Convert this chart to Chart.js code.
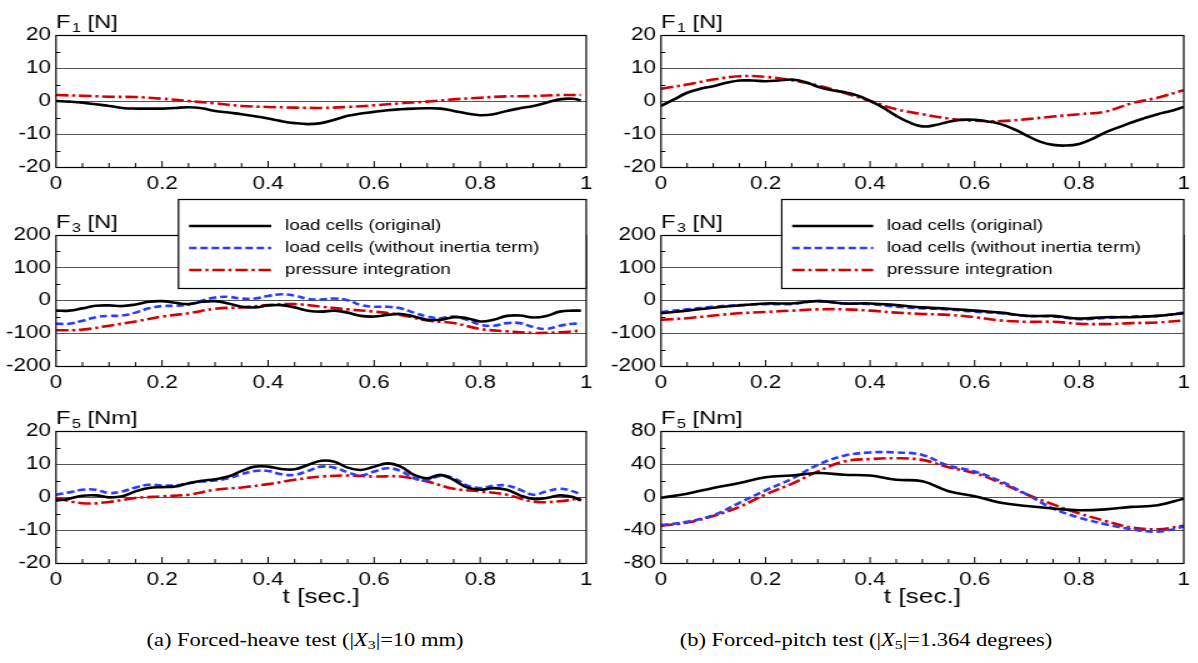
<!DOCTYPE html>
<html lang="en">
<head>
<meta charset="UTF-8">
<title>Load cells vs pressure integration</title>
<script src="https://cdn.jsdelivr.net/npm/chart.js"></script>
<style>
  body { margin: 0; background: #fff; width: 1198px; height: 663px; position: relative; overflow: hidden; }
  .panel { position: absolute; transform-origin: 0 0; }
  .caption { position: absolute; top: 630px; font-family: "Liberation Serif", "Times New Roman", serif; font-size: 18px; white-space: nowrap; transform: translateX(-50%) scaleX(1.25); color: #000; }
  .caption sub { font-size: 0.7em; vertical-align: -0.25em; line-height: 0; }
</style>
</head>
<body>
<div class="caption" style="left:305px">(a) Forced-heave test (|<i>X</i><sub>3</sub>|=10 mm)</div>
<div class="caption" style="left:866px">(b) Forced-pitch test (|<i>X</i><sub>5</sub>|=1.364 degrees)</div>

<script>
// time axes (left column curves stop just before t = 1)
var tFineL = [0,0.025,0.05,0.075,0.1,0.125,0.15,0.175,0.2,0.225,0.25,0.275,0.3,0.325,0.35,0.375,0.4,0.425,0.45,0.475,0.5,0.525,0.55,0.575,0.6,0.625,0.65,0.675,0.7,0.725,0.75,0.775,0.8,0.825,0.85,0.875,0.9,0.925,0.95,0.975,0.99];
var tCoarseL = [0,0.05,0.1,0.15,0.2,0.25,0.3,0.35,0.4,0.45,0.5,0.55,0.6,0.65,0.7,0.75,0.8,0.85,0.9,0.95,0.99];
var tFineR = [0,0.025,0.05,0.075,0.1,0.125,0.15,0.175,0.2,0.225,0.25,0.275,0.3,0.325,0.35,0.375,0.4,0.425,0.45,0.475,0.5,0.525,0.55,0.575,0.6,0.625,0.65,0.675,0.7,0.725,0.75,0.775,0.8,0.825,0.85,0.875,0.9,0.925,0.95,0.975,1];
var tCoarseR = [0,0.05,0.1,0.15,0.2,0.25,0.3,0.35,0.4,0.45,0.5,0.55,0.6,0.65,0.7,0.75,0.8,0.85,0.9,0.95,1];

var xTicks = [0, 0.2, 0.4, 0.6, 0.8, 1];
var xTickLabels = ['0', '0.2', '0.4', '0.6', '0.8', '1'];
var yTicksF1 = [-20, -10, 0, 10, 20];
var yTicksF3 = [-200, -100, 0, 100, 200];
var yTicksF5heave = [-20, -10, 0, 10, 20];
var yTicksF5pitch = [-80, -40, 0, 40, 80];

var seriesNames = ['load cells (original)', 'load cells (without inertia term)', 'pressure integration'];

// (a) forced heave
var heaveF1Orig = [0,-0.2,-0.5,-1,-1.5,-2.1,-2.3,-2.3,-2.3,-2.1,-1.9,-2.2,-3,-3.5,-4,-4.6,-5.3,-6.1,-6.7,-7,-6.7,-5.7,-4.5,-3.8,-3.3,-2.8,-2.5,-2.3,-2.2,-2.3,-3,-3.8,-4.3,-4,-3,-2.2,-1.5,-0.5,0.5,0.7,0.2];
var heaveF1Press = [1.8,1.6,1.3,1.2,0.7,0,-0.7,-1.5,-1.8,-2,-2.1,-1.8,-1.3,-0.7,-0.2,0.5,1,1.4,1.5,1.8,1.8];

var heaveF3Orig = [-31,-31,-24,-16,-15,-17,-12,-4,-2,-7,-11,-4,-2,-9,-19,-21,-15,-14,-21,-31,-34,-31,-37,-47,-49,-44,-41,-49,-59,-59,-51,-54,-64,-59,-47,-46,-52,-47,-34,-31,-31];
var heaveF3NoInertia = [-71,-71,-62,-51,-47,-46,-37,-24,-17,-16,-12,-1,9,11,6,6,14,19,15,5,3,6,1,-14,-19,-19,-24,-37,-49,-54,-49,-59,-74,-77,-69,-69,-81,-87,-77,-71,-71];
var heaveF3Press = [-91,-89,-77,-64,-49,-39,-25,-21,-14,-11,-19,-27,-34,-44,-61,-69,-87,-94,-99,-97,-92];

var heaveF5Orig = [-1.1,-0.5,0.4,0.5,-0.1,0.2,1.7,2.7,3,3.2,4.2,4.9,5.4,6.2,7.9,9.2,9.2,8.5,8.4,9.7,11,10.7,8.9,8.2,9.2,10.2,9.2,6.7,5.7,6.7,5.2,2.9,2.2,2.7,2.2,0.5,-0.6,-0.3,0.5,0,-1.1];
var heaveF5NoInertia = [0.7,1.4,2.2,2.2,1.2,1.7,2.9,3.7,3.5,3.5,4.2,4.7,5,5.7,6.9,7.9,7.9,6.9,6.7,7.9,9.2,8.9,7.5,6.5,7.7,8.7,7.9,5.7,5.2,6.4,5.7,3.5,2.7,3.4,3.5,2.2,0.7,1.7,2.5,1.7,0.7];
var heaveF5Press = [-0.3,-1.9,-1.5,-0.3,0.2,0.7,2.2,2.9,3.9,5.2,6.2,6.5,6.2,6.2,4.7,2.5,1.7,0.7,-1.4,-1.3,-0.3];

// (b) forced pitch
var pitchF1Orig = [-1.5,0.5,2.5,3.7,4.5,5.5,6.2,6.2,6,6.2,6.5,5.8,4.3,3.3,2.7,1.7,0,-2,-4.5,-6.5,-7.7,-7.3,-6.3,-5.7,-5.7,-6.2,-7,-8.5,-10.5,-12.3,-13.3,-13.5,-13,-11.5,-9.5,-8,-6.5,-5.2,-4,-3,-1.8];
var pitchF1Press = [3.7,5,6.5,7.5,7.3,6.3,4.7,2.5,0,-2.5,-4,-5.3,-6,-6.1,-5.5,-4.7,-4,-3.2,-0.7,1,3.3];

var pitchF3Orig = [-39,-31,-22,-15,-9,-9,-2,-9,-9,-14,-21,-25,-31,-37,-47,-47,-55,-51,-51,-47,-39];
var pitchF3NoInertia = [-35,-27,-19,-14,-11,-11,-2,-9,-11,-19,-24,-27,-34,-39,-47,-49,-57,-53,-49,-47,-37];
var pitchF3Press = [-59,-54,-46,-39,-35,-31,-27,-27,-31,-37,-41,-44,-51,-61,-65,-65,-71,-72,-69,-67,-61];

var pitchF5Orig = [-1,4,11,17,24,26,29,27,26,21,19,7,1,-7,-11,-14,-16,-15,-12,-10,-2];
var pitchF5NoInertia = [-34,-30,-22,-7,8,22,39,50,54,54,51,38,31,19,3,-14,-25,-33,-39,-42,-36];
var pitchF5Press = [-35,-31,-23,-12,3,16,31,43,46,47,45,36,29,17,3,-9,-20,-29,-37,-39,-35];

var lineStyles = [
    { borderColor: '#000000', borderWidth: 2.6, borderDash: [] },
    { borderColor: '#2b3cff', borderWidth: 2.6, borderDash: [6, 3] },
    { borderColor: '#d40000', borderWidth: 2.6, borderDash: [10, 3, 2.5, 3] }
];

var FONT = '"Liberation Sans", Arial, sans-serif';
var SX = 1.25; // the source figure is stretched sideways

function makeSet(kind, t, vals) {
    var st = lineStyles[kind];
    return {
        label: seriesNames[kind],
        data: t.map(function (x, i) { return { x: x, y: vals[i] }; }),
        borderColor: st.borderColor,
        borderWidth: st.borderWidth,
        borderDash: st.borderDash,
        pointRadius: 0,
        tension: 0.4,
        fill: false
    };
}

// frame, inward minor ticks, panel title, legend box and x title
var panelDecor = {
    id: 'panelDecor',
    afterDraw: function (chart, args, o) {
        var ctx = chart.ctx, a = chart.chartArea;
        var xs = chart.scales.x, ys = chart.scales.y;
        ctx.save();
        ctx.strokeStyle = '#000';
        ctx.lineWidth = 1;
        ctx.setLineDash([]);
        ctx.beginPath();
        for (var k = 1; k < 20; k++) {
            var px = xs.getPixelForValue(k * 0.05);
            var len = (k % 4 === 0) ? 6 : 4;
            ctx.moveTo(px, a.bottom);
            ctx.lineTo(px, a.bottom - len);
        }
        var ymin = o.yTicks[0], ystep = o.yTicks[1] - o.yTicks[0];
        for (var j = 0; j < o.yTicks.length - 1; j++) {
            var py = Math.round(ys.getPixelForValue(ymin + (j + 0.5) * ystep)) + 0.5;
            ctx.moveTo(a.left, py);
            ctx.lineTo(a.left + 3.5, py);
        }
        ctx.stroke();
        ctx.lineWidth = 1.2;
        ctx.strokeRect(a.left, Math.round(a.top) + 0.5, a.right - a.left, Math.round(a.bottom - a.top));

        // title like F1 [N]
        ctx.fillStyle = '#000';
        ctx.textBaseline = 'alphabetic';
        ctx.textAlign = 'left';
        var tx = a.left, ty = a.top - 7;
        ctx.font = '19px ' + FONT;
        ctx.fillText('F', tx, ty);
        tx += ctx.measureText('F').width + 1;
        ctx.font = '13px ' + FONT;
        ctx.fillText(o.sub, tx, ty + 4);
        tx += ctx.measureText(o.sub).width;
        ctx.font = '19px ' + FONT;
        ctx.fillText(' [' + o.unit + ']', tx, ty);

        if (o.legend) {
            var W = a.right - a.left;
            var bx = a.left + 0.231 * W, by = a.top - 36;
            ctx.fillStyle = '#fff';
            ctx.fillRect(bx, by, a.right - bx, 89);
            ctx.lineWidth = 1.2;
            ctx.strokeRect(bx, by + 0.5, a.right - bx, 89);
            var rows = [a.top - 9, a.top + 13, a.top + 35];
            chart.data.datasets.forEach(function (ds, i) {
                ctx.strokeStyle = ds.borderColor;
                ctx.lineWidth = ds.borderWidth;
                ctx.setLineDash(ds.borderDash);
                ctx.beginPath();
                ctx.moveTo(a.left + 0.251 * W, rows[i]);
                ctx.lineTo(a.left + 0.406 * W, rows[i]);
                ctx.stroke();
                ctx.setLineDash([]);
                ctx.fillStyle = '#000';
                ctx.font = '15px ' + FONT;
                ctx.textBaseline = 'middle';
                ctx.fillText(ds.label, a.left + 0.432 * W, rows[i]);
            });
        }
        if (o.xTitle) {
            ctx.fillStyle = '#000';
            ctx.font = '21px ' + FONT;
            ctx.textAlign = 'center';
            ctx.textBaseline = 'middle';
            ctx.fillText('t [sec.]', (a.left + a.right) / 2, a.bottom + 34);
        }
        ctx.restore();
    }
};

// page positions (px) of each column / row of plot frames
var cols = [
    { left: 0, width: 600, areaLeft: 56, areaRight: 588 },
    { left: 600, width: 598, areaLeft: 661, areaRight: 1190 }
];
var rows = [
    { top: 0, height: 200, areaTop: 35, areaBottom: 167 },
    { top: 190, height: 210, areaTop: 235, areaBottom: 366 },
    { top: 395, height: 225, areaTop: 431, areaBottom: 563 }
];

function makePanel(col, row, yTicks, sub, unit, datasets, legend, xTitle) {
    var c = cols[col], r = rows[row];
    var wrap = document.createElement('div');
    wrap.className = 'panel';
    wrap.style.left = c.left + 'px';
    wrap.style.top = r.top + 'px';
    wrap.style.transform = 'scaleX(' + SX + ')';
    var cv = document.createElement('canvas');
    var cw = Math.round(c.width / SX);
    cv.width = cw;
    cv.height = r.height;
    wrap.appendChild(cv);
    document.body.appendChild(wrap);

    var yAxisW = (c.areaLeft - c.left) / SX;
    var padRight = cw - (c.areaRight - c.left) / SX;

    new Chart(cv, {
        type: 'line',
        data: { datasets: datasets },
        options: {
            responsive: false,
            animation: false,
            devicePixelRatio: 1,
            layout: { padding: { top: r.areaTop - r.top, right: padRight, left: 0, bottom: 0 } },
            plugins: {
                legend: { display: false },
                tooltip: { enabled: false },
                panelDecor: { yTicks: yTicks, sub: sub, unit: unit, legend: legend, xTitle: xTitle }
            },
            scales: {
                x: {
                    type: 'linear', min: 0, max: 1,
                    afterBuildTicks: function (s) { s.ticks = xTicks.map(function (v) { return { value: v }; }); },
                    afterFit: function (s) { s.height = r.top + r.height - r.areaBottom; },
                    grid: { display: false, drawTicks: false },
                    border: { display: false },
                    ticks: {
                        autoSkip: false, maxRotation: 0, padding: 6, color: '#000',
                        font: { family: FONT, size: 18 },
                        callback: function (v, i) { return xTickLabels[i]; }
                    }
                },
                y: {
                    type: 'linear', min: yTicks[0], max: yTicks[yTicks.length - 1],
                    afterBuildTicks: function (s) { s.ticks = yTicks.map(function (v) { return { value: v }; }); },
                    afterFit: function (s) { s.width = yAxisW; },
                    grid: { color: '#555', lineWidth: 1, drawTicks: false },
                    border: { display: false },
                    ticks: {
                        autoSkip: false, padding: 4, color: '#000',
                        font: { family: FONT, size: 18 },
                        callback: function (v, i) { return String(yTicks[i]); }
                    }
                }
            }
        },
        plugins: [panelDecor]
    });
}

makePanel(0, 0, yTicksF1, '1', 'N', [
    makeSet(0, tFineL, heaveF1Orig),
    makeSet(2, tCoarseL, heaveF1Press)
], false, false);
makePanel(0, 1, yTicksF3, '3', 'N', [
    makeSet(0, tFineL, heaveF3Orig),
    makeSet(1, tFineL, heaveF3NoInertia),
    makeSet(2, tCoarseL, heaveF3Press)
], true, false);
makePanel(0, 2, yTicksF5heave, '5', 'Nm', [
    makeSet(0, tFineL, heaveF5Orig),
    makeSet(1, tFineL, heaveF5NoInertia),
    makeSet(2, tCoarseL, heaveF5Press)
], false, true);

makePanel(1, 0, yTicksF1, '1', 'N', [
    makeSet(0, tFineR, pitchF1Orig),
    makeSet(2, tCoarseR, pitchF1Press)
], false, false);
makePanel(1, 1, yTicksF3, '3', 'N', [
    makeSet(0, tCoarseR, pitchF3Orig),
    makeSet(1, tCoarseR, pitchF3NoInertia),
    makeSet(2, tCoarseR, pitchF3Press)
], true, false);
makePanel(1, 2, yTicksF5pitch, '5', 'Nm', [
    makeSet(0, tCoarseR, pitchF5Orig),
    makeSet(1, tCoarseR, pitchF5NoInertia),
    makeSet(2, tCoarseR, pitchF5Press)
], false, true);
</script>
</body>
</html>
